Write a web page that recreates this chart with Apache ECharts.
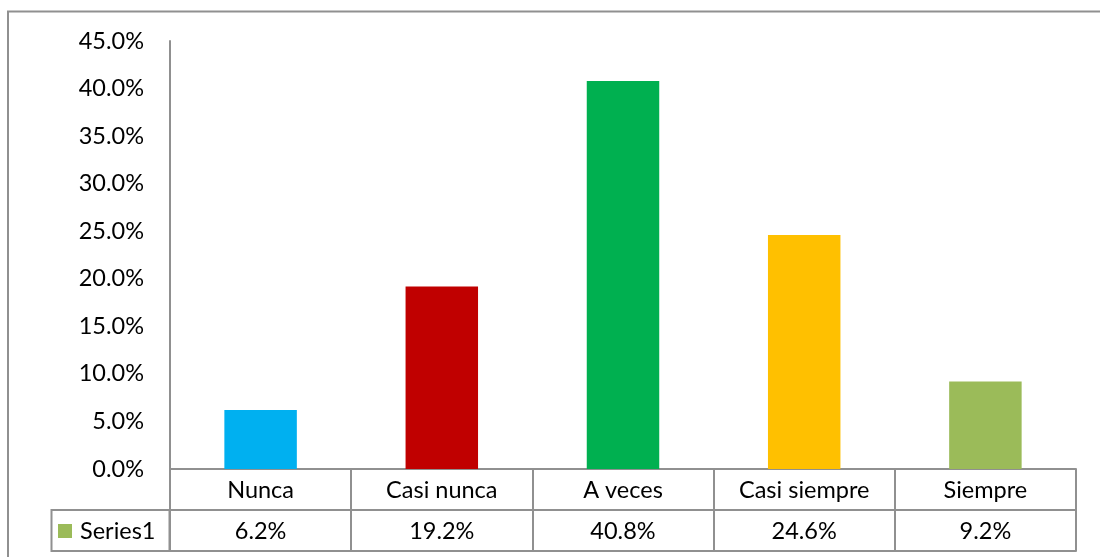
<!DOCTYPE html>
<html>
<head>
<meta charset="utf-8">
<script src="https://cdn.jsdelivr.net/npm/echarts@6/dist/echarts.min.js"></script>
<style>
html,body{margin:0;padding:0;background:#fff;}
#chart{width:1100px;height:557px;}
</style>
</head>
<body>
<div id="chart"></div>
<script>
const categories = ['Nunca', 'Casi nunca', 'A veces', 'Casi siempre', 'Siempre'];
const values = [6.2, 19.2, 40.8, 24.6, 9.2];
const barColors = ['#00B0F0', '#C00000', '#00B050', '#FFC000', '#9BBB59'];
const seriesName = 'Series1';
const yMin = 0, yMax = 45, yStep = 5;

const FONT = 'Lato';
const GRAY = '#909090';
const fs = 23.5;

const chart = echarts.init(document.getElementById('chart'));
const axisLineStyle = {show: true, lineStyle: {color: GRAY, width: 2}};

chart.setOption({
  animation: false,
  textStyle: {fontFamily: FONT, color: '#000'},
  grid: {left: 170, top: 41, width: 906, height: 428, containLabel: false},
  legend: {
    left: 58, top: 510, padding: [9, 0, 0, 0],
    itemWidth: 14, itemHeight: 14, itemGap: 0,
    icon: 'rect',
    textStyle: {fontFamily: FONT, fontSize: fs, color: '#000', padding: [0, 0, 0, 3]},
    data: [seriesName]
  },
  graphic: [
    {type: 'rect', silent: true, shape: {x: 8, y: 11.5, width: 1200, height: 700},
     style: {fill: 'none', stroke: GRAY, lineWidth: 2}},
    {type: 'rect', silent: true, shape: {x: 51.5, y: 510, width: 118, height: 41},
     style: {fill: 'none', stroke: GRAY, lineWidth: 2}}
  ],
  xAxis: [
    {
      type: 'category', data: categories, position: 'bottom', boundaryGap: true,
      axisLine: axisLineStyle,
      axisTick: {show: true, length: 82, lineStyle: {color: GRAY, width: 2}},
      axisLabel: {fontFamily: FONT, fontSize: fs, color: '#000', margin: 9}
    },
    {
      type: 'category', data: values.map(v => v.toFixed(1) + '%'), position: 'bottom', offset: 41,
      axisLine: axisLineStyle, axisTick: {show: false},
      axisLabel: {fontFamily: FONT, fontSize: fs, color: '#000', margin: 9}
    },
    {
      type: 'category', data: categories, position: 'bottom', offset: 82,
      axisLine: axisLineStyle, axisTick: {show: false}, axisLabel: {show: false}
    }
  ],
  yAxis: {
    type: 'value', min: yMin, max: yMax, interval: yStep,
    axisLine: axisLineStyle, axisTick: {show: false}, splitLine: {show: false},
    axisLabel: {fontFamily: FONT, fontSize: fs, color: '#000', margin: 26,
      formatter: v => v.toFixed(1) + '%'}
  },
  series: [{
    name: seriesName, type: 'bar', xAxisIndex: 0, barWidth: '40%',
    itemStyle: {color: '#9BBB59'},
    data: values.map((v, i) => ({value: v, itemStyle: {color: barColors[i]}}))
  }]
});
</script>
</body>
</html>
